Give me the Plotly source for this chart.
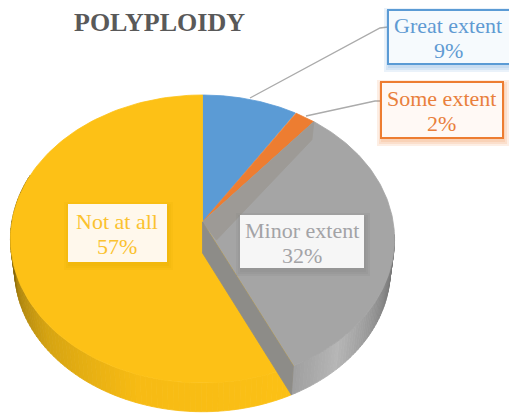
import numpy as np
import plotly.graph_objects as go

# ---- data ----
categories = ["Great extent", "Some extent", "Minor extent", "Not at all"]
shares = [9, 2, 32, 57]
top_colors = ["#5b9bd5", "#ed7d31", "#a5a5a5", "#fdc116"]
text_colors = ["#5f9ad3", "#e9803c", "#a3a3a6", "#fbc22e"]
box_fill = ["#f6fafd", "#fff9f5", "#f6f6f6", "#fff8ec"]
box_line = ["#5b9bd5", "#ed7d31", None, None]
shadow_colors = ["#5b9bd5", "#ed7d31", "#7f7f7f", "#e0a800"]
box_x0 = [388, 381, 240, 68]
box_x1 = [510, 503, 364, 167]
box_y0 = [10, 82, 215, 204]
box_y1 = [64, 138, 268, 262]
leader_x = [[250, 380, 388], [306, 375, 381]]
leader_y = [[98, 28, 27], [116, 101, 101]]
title_text = "POLYPLOIDY"

# ---- projection of the tilted disc ----
K = 0.118
CX = 202.5


def rim(theta, level=0):
    u, v = np.sin(theta), -np.cos(theta)
    d = 1 - K * v
    if level == 0:
        return CX + 190.7 * u / d, 222 + 142 * v / d
    return CX + 186.5 * u / d, 253 + 140 * v / d


fractions = np.cumsum([0] + shares) / sum(shares)
angles = 2 * np.pi * fractions

fig = go.Figure()


def poly(xs, ys, color):
    fig.add_trace(go.Scatter(x=list(xs), y=list(ys), mode="lines", fill="toself",
                             fillcolor=color, line=dict(color=color, width=0.8),
                             hoverinfo="skip", showlegend=False))


def mix(stops, t):
    ts = [s[0] for s in stops]
    rgb = [np.interp(t, ts, [s[1][i] for s in stops]) for i in range(3)]
    return "rgb(%d,%d,%d)" % tuple(int(c) for c in rgb)


yellow_stops = [(0.0, (252, 193, 22)), (0.32, (247, 187, 20)), (0.55, (214, 164, 18)),
                (0.72, (170, 130, 14)), (0.85, (100, 80, 12)), (1.0, (80, 62, 10))]
gray_stops = [(0.0, (105, 105, 105)), (0.35, (136, 136, 136)), (0.75, (182, 182, 182)), (1.0, (160, 160, 160))]


def side(a0, a1, stops, n=90):
    edges = np.linspace(a0, a1, n + 1)
    for i in range(n):
        seg = np.linspace(edges[i], edges[i + 1], 3)
        xt, yt = rim(seg, 0)
        xb, yb = rim(seg[::-1], 1)
        poly(np.r_[xt, xb, xt[0]], np.r_[yt, yb, yt[0]], mix(stops, (i + 0.5) / n))


# outer walls
side(angles[3], np.radians(290), yellow_stops)
side(np.radians(95), angles[3], gray_stops, 50)

# top faces
for i in range(4):
    seg = np.linspace(angles[i], angles[i + 1], 120)
    x, y = rim(seg, 0)
    poly(np.r_[CX, x, CX], np.r_[222, y, 222], top_colors[i])

# inner glimpse of the wall along the orange edge of the grey slice
xe, ye = rim(angles[2], 0)
poly([CX, xe, xe - 2, CX + 14, CX], [222, ye, ye + 18, 240, 222], "#9d9a96")

# cut face between grey and yellow
xe, ye = rim(angles[3], 0)
xb, yb = rim(angles[3], 1)
poly([CX, xe, xb, CX, CX], [222, ye, yb, 253, 222], "#8d8c88")

# leader lines
for lx, ly in zip(leader_x, leader_y):
    fig.add_trace(go.Scatter(x=lx, y=ly, mode="lines", line=dict(color="#ababab", width=1.4),
                             hoverinfo="skip", showlegend=False))

# label boxes
shapes = []
annotations = []
for i, cat in enumerate(categories):
    for spread in (5, 3, 1):
        shapes.append(dict(type="rect", x0=box_x0[i] + 1 - spread, x1=box_x1[i] + 1 + spread,
                           y0=box_y0[i] + 3 - spread, y1=box_y1[i] + 3 + spread,
                           fillcolor=shadow_colors[i], opacity=0.13, line=dict(width=0), layer="above"))
    shapes.append(dict(type="rect", x0=box_x0[i], x1=box_x1[i], y0=box_y0[i], y1=box_y1[i],
                       fillcolor=box_fill[i],
                       line=dict(color=box_line[i], width=2) if box_line[i] else dict(width=0),
                       layer="above"))
    xc = (box_x0[i] + min(box_x1[i], 509)) / 2 - 0.5
    yc = (box_y0[i] + box_y1[i]) / 2 + 1
    for dy, line in ((-12.5, cat), (12.5, f"{shares[i]}%")):
        annotations.append(dict(x=xc, y=yc + dy, text=line, showarrow=False,
                                font=dict(family="Liberation Serif", size=22, color=text_colors[i]),
                                xanchor="center", yanchor="middle"))
annotations.append(dict(x=159, y=22, text=f"<b>{title_text}</b>", showarrow=False,
                        font=dict(family="Liberation Serif", size=26, color="#595959"),
                        xanchor="center", yanchor="middle"))

fig.update_layout(
    width=509, height=415, autosize=False,
    margin=dict(l=0, r=0, t=0, b=0),
    paper_bgcolor="white", plot_bgcolor="white",
    xaxis=dict(range=[0, 509], visible=False, fixedrange=True),
    yaxis=dict(range=[415, 0], visible=False, fixedrange=True),
    shapes=shapes, annotations=annotations, showlegend=False,
)
fig.write_html("out.html", post_script="document.body.style.margin='0';",
               config=dict(displayModeBar=False))
